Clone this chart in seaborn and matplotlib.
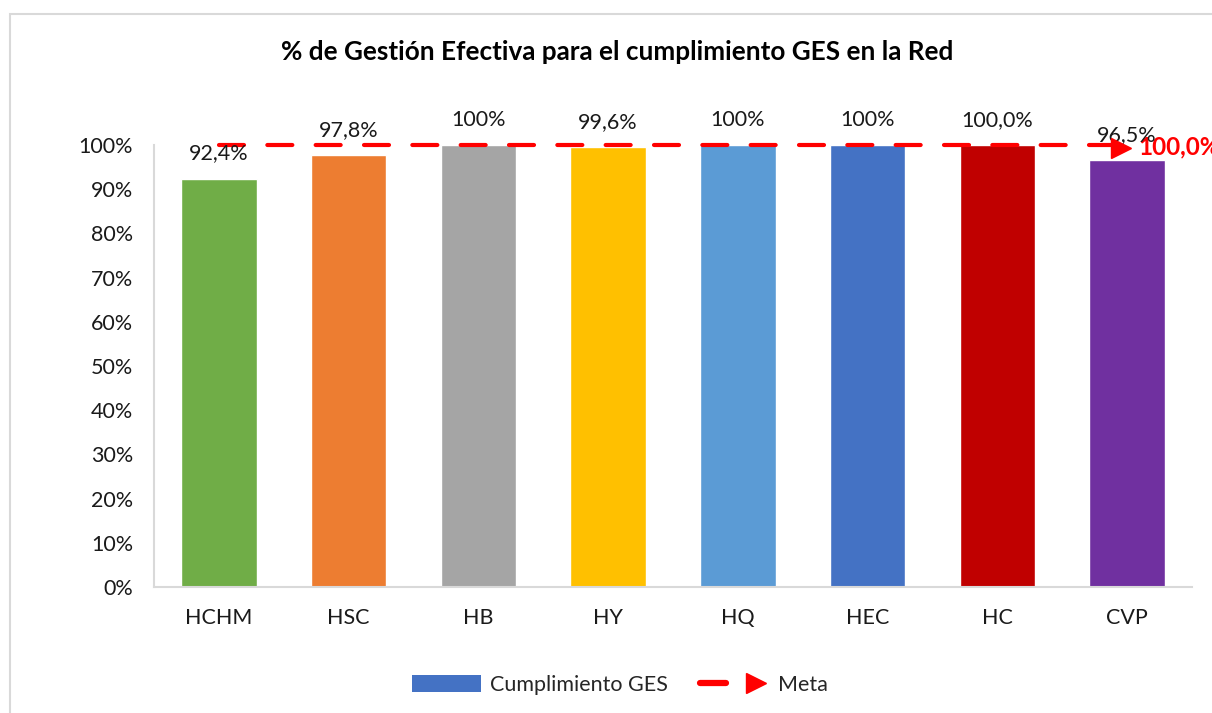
import numpy as np
import pandas as pd
import matplotlib
matplotlib.use("Agg")
import matplotlib.pyplot as plt
import seaborn as sns
from matplotlib.lines import Line2D
from matplotlib.patches import Patch, Rectangle
from matplotlib.legend_handler import HandlerTuple
from matplotlib.ticker import PercentFormatter

categories = ["HCHM", "HSC", "HB", "HY", "HQ", "HEC", "HC", "CVP"]
cumplimiento = [0.924, 0.978, 1.0, 0.996, 1.0, 1.0, 1.0, 0.965]
bar_labels = ["92,4%", "97,8%", "100%", "99,6%", "100%", "100%", "100,0%", "96,5%"]
meta = [1.0, 1.0, 1.0, 1.0, 1.0, 1.0, 1.0, 1.0]
meta_label = "100,0%"
colors = ["#70AD47", "#ED7D31", "#A5A5A5", "#FFC000", "#5B9BD5", "#4472C4", "#C00000", "#7030A0"]
title = "% de Gestión Efectiva para el cumplimiento GES en la Red"

sns.set_style("white")
plt.rcParams["font.family"] = ["Lato", "DejaVu Sans"]

FS = 15.5
fig = plt.figure(figsize=(12.12, 7.13), dpi=100)
ax = fig.add_axes([154/1212, 1-587/713, (1192-154)/1212, (587-145)/713])

df = pd.DataFrame({"cat": categories, "val": cumplimiento})
sns.barplot(data=df, x="cat", y="val", hue="cat", palette=colors, legend=False,
            width=0.58, saturation=1, ax=ax)

x = np.arange(len(categories))
lw = 3
ax.plot(x, meta, color="#FF0000", lw=lw, dashes=(6.0, 5.6), dash_capstyle="round",
        clip_on=False, zorder=3)
ax.plot([x[-1] - 0.05], [meta[-1] - 0.006], marker=">", color="#FF0000", markersize=15,
        lw=0, clip_on=False, zorder=4)
ax.text(x[-1] + 0.09, meta[-1] - 0.004, meta_label, color="#FF0000", fontsize=17.5,
        fontweight="bold", ha="left", va="center", clip_on=False)

for xi, v, lab in zip(x, cumplimiento, bar_labels):
    ax.annotate(lab, (xi, v), xytext=(0, 18), textcoords="offset points",
                ha="center", va="center", fontsize=FS, color="#1a1a1a",
                annotation_clip=False)

ax.set_ylim(0, 1)
ax.set_xlim(-0.5, len(categories) - 0.5)
ax.set_yticks(np.arange(0, 1.01, 0.1))
ax.yaxis.set_major_formatter(PercentFormatter(1.0, decimals=0))
ax.set_xlabel("")
ax.set_ylabel("")
ax.tick_params(axis="both", length=0, labelsize=FS, colors="#1a1a1a")
ax.tick_params(axis="x", pad=15)
ax.tick_params(axis="y", pad=15)
for s in ["top", "right"]:
    ax.spines[s].set_visible(False)
for s in ["left", "bottom"]:
    ax.spines[s].set_color("#D9D9D9")
    ax.spines[s].set_linewidth(1.5)

fig.text(617/1212, 1-52/713, title, ha="center", va="center", fontsize=18.8,
         fontweight="bold", color="#000000")

h_bar = Patch(facecolor="#4472C4", edgecolor="none")
h_line = Line2D([], [], color="#FF0000", lw=4.5, solid_capstyle="round")
h_mark = Line2D([], [], color="#FF0000", marker=">", lw=0, markersize=15)
fig.legend([h_bar, (h_line, h_mark)], ["Cumplimiento GES", "Meta"],
           handler_map={tuple: HandlerTuple(ndivide=2, pad=0.8)},
           loc="center", bbox_to_anchor=(620/1212, 1-685/713), ncol=2,
           frameon=False, fontsize=FS, handlelength=3.2, handleheight=0.8,
           columnspacing=1.5, handletextpad=0.4)

fig.add_artist(Rectangle((9.5/1212, -0.1), 1.2, 1.1 - 14.5/713,
                         transform=fig.transFigure, fill=False,
                         edgecolor="#D9D9D9", lw=1.5, clip_on=False))

fig.savefig("out.png", dpi=100)
